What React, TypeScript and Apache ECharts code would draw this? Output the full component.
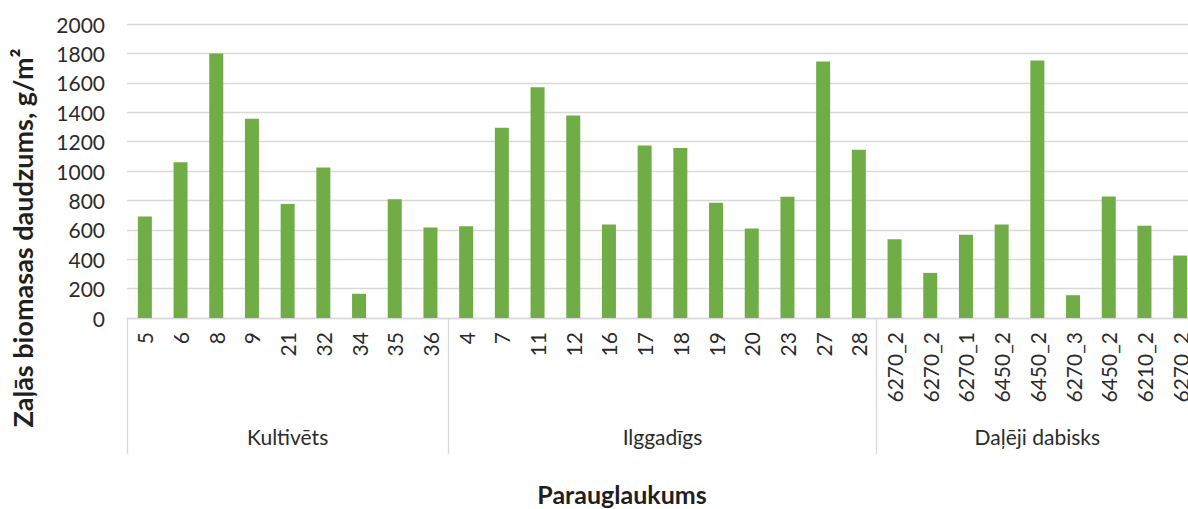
import React, { useEffect, useRef } from "react";
import * as echarts from "echarts";

const groupNames = ["Kultivēts", "Ilggadīgs", "Daļēji dabisks"];
const groupCategories = [
  ["5", "6", "8", "9", "21", "32", "34", "35", "36"],
  ["4", "7", "11", "12", "16", "17", "18", "19", "20", "23", "27", "28"],
  ["6270_2", "6270_2", "6270_1", "6450_2", "6450_2", "6270_3", "6450_2", "6210_2", "6270_2"],
];
const groupValues = [
  [690, 1060, 1800, 1355, 776, 1023, 165, 807, 615],
  [625, 1295, 1570, 1377, 636, 1173, 1157, 784, 609, 825, 1745, 1145],
  [536, 307, 566, 636, 1752, 155, 827, 627, 425],
];
const yTicks = { min: 0, max: 2000, interval: 200 };
const yTitle = "Zaļās biomasas daudzums, g/m²";
const xTitle = "Parauglaukums";

const GREEN = "#70AD47";
const GRID = "#D9D9D9";
const TEXT = "#2b2b2b";
const FONT = "Lato";

export default function App() {
  const ref = useRef<HTMLDivElement>(null);
  useEffect(() => {
    if (!ref.current) return;
    const chart = echarts.init(ref.current, null, { renderer: "svg" });
    const categories = groupCategories.flat();
    const values = groupValues.flat();
    const total = categories.length;
    const bounds: number[] = [0];
    const centers: number[] = [];
    groupCategories.forEach((g) => {
      const start = bounds[bounds.length - 1];
      centers.push(start + g.length / 2);
      bounds.push(start + g.length);
    });
    chart.setOption({
      animation: false,
      grid: { left: 127, right: 2, top: 24, bottom: 191, containLabel: false },
      xAxis: [
        {
          type: "category",
          data: categories,
          axisLine: { show: true, lineStyle: { color: GRID, width: 1.3 } },
          axisTick: { show: false },
          axisLabel: {
            rotate: 90,
            interval: 0,
            margin: 14,
            color: TEXT,
            fontFamily: FONT,
            fontSize: 21,
          },
        },
        {
          type: "value",
          min: 0,
          max: total,
          position: "bottom",
          axisLine: { show: false },
          splitLine: { show: false },
          axisTick: {
            show: true,
            customValues: bounds,
            length: 136,
            lineStyle: { color: GRID, width: 1.3 },
          },
          axisLabel: {
            show: true,
            customValues: centers,
            margin: 108,
            color: TEXT,
            fontFamily: FONT,
            fontSize: 21,
            formatter: (v: number) => {
              const i = centers.findIndex((c) => Math.abs(c - v) < 1e-6);
              return i >= 0 ? groupNames[i] : "";
            },
          },
        },
      ],
      yAxis: {
        type: "value",
        min: yTicks.min,
        max: yTicks.max,
        interval: yTicks.interval,
        axisLine: { show: false },
        axisTick: { show: false },
        splitLine: { show: true, lineStyle: { color: GRID, width: 1.3 } },
        axisLabel: {
          color: TEXT,
          fontFamily: FONT,
          fontSize: 21,
          margin: 22,
          formatter: (v: number) => String(v),
        },
      },
      graphic: [
        {
          type: "text",
          x: 22,
          y: 238,
          rotation: Math.PI / 2,
          style: {
            text: yTitle,
            fill: "#1f1f1f",
            font: `bold 27px ${FONT}`,
            textAlign: "center",
            textVerticalAlign: "middle",
          },
        },
        {
          type: "text",
          x: 622,
          y: 494,
          style: {
            text: xTitle,
            fill: "#1f1f1f",
            font: `bold 25px ${FONT}`,
            textAlign: "center",
            textVerticalAlign: "middle",
          },
        },
      ],
      series: [
        {
          type: "bar",
          xAxisIndex: 0,
          data: values,
          barWidth: 14,
          itemStyle: { color: GREEN },
        },
      ],
    });
    return () => chart.dispose();
  }, []);
  return (
    <div
      ref={ref}
      style={{ position: "fixed", left: 0, top: 0, width: 1200, height: 509, background: "#fff" }}
    />
  );
}
